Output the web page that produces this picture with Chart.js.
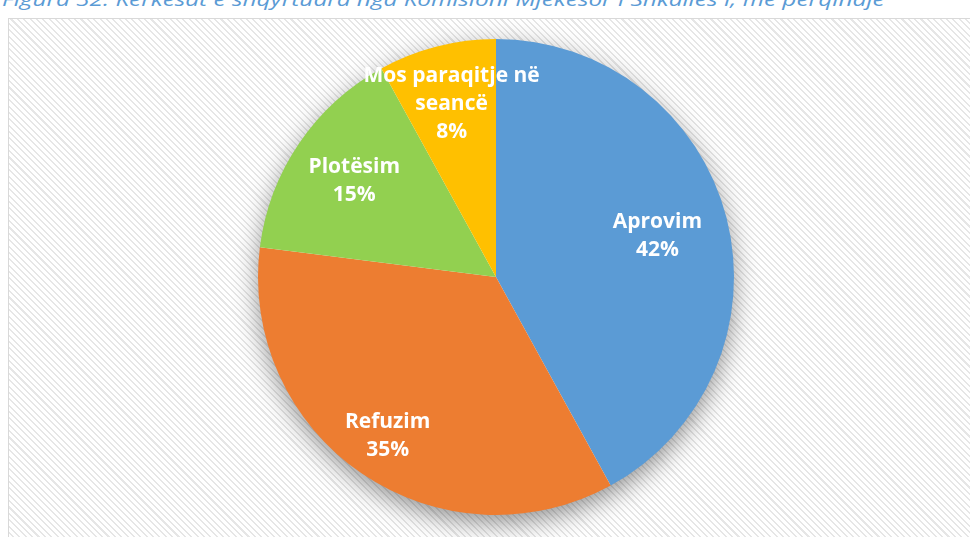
<!DOCTYPE html>
<html lang="sq">
<head>
    <meta charset="UTF-8">
    <title>Figura 32</title>
    <script src="https://cdn.jsdelivr.net/npm/chart.js"></script>
    <style>
        body {
            margin: 0;
            width: 970px;
            height: 537px;
            overflow: hidden;
            background: #fff;
            position: relative;
        }
        .caption {
            position: absolute;
            left: 2px;
            top: -11px;
            font-family: "Open Sans", sans-serif;
            font-style: italic;
            font-size: 19px;
            line-height: 20px;
            color: #5b9bd5;
            white-space: nowrap;
            transform-origin: 0 0;
        }
        .frame {
            position: absolute;
            left: 8px;
            top: 18px;
            width: 980px;
            height: 540px;
            border: 1px solid #d9d9d9;
            background: repeating-linear-gradient(45deg, #e6e6e6 0 1.5px, #ffffff 1.5px 4.5px);
        }
        #pie {
            position: absolute;
            left: 0;
            top: 0;
        }
    </style>
</head>
<body>
    <div class="caption" id="caption">Figura 32: Kërkesat e shqyrtuara nga Komisioni Mjekësor i Shkallës I, me përqindje</div>
    <div class="frame"></div>
    <canvas id="pie" width="970" height="537"></canvas>

    <script>
        // data
        const categories = ['Aprovim', 'Refuzim', 'Plotësim', 'Mos paraqitje në seancë'];
        const shares = [42, 35, 15, 8];
        const sliceColors = ['#5b9bd5', '#ed7d31', '#92d050', '#ffc000'];

        // stretch the caption to the width it has in the original
        const cap = document.getElementById('caption');
        cap.style.transform = 'scaleX(' + (883 / cap.offsetWidth) + ')';

        // soft shadow under the whole pie
        const pieShadow = {
            id: 'pieShadow',
            beforeDatasetsDraw(chart) {
                const arc = chart.getDatasetMeta(0).data[0];
                if (!arc) return;
                const ctx = chart.ctx;
                ctx.save();
                ctx.shadowColor = 'rgba(0,0,0,0.45)';
                ctx.shadowBlur = 26;
                ctx.shadowOffsetY = 8;
                ctx.fillStyle = '#ffffff';
                ctx.beginPath();
                ctx.arc(arc.x, arc.y, arc.outerRadius - 1, 0, Math.PI * 2);
                ctx.fill();
                ctx.restore();
            }
        };

        // white labels inside the slices, Excel style
        const labelDist = [0.70, 0.81, 0.72, 0.75];
        const sliceLabels = {
            id: 'sliceLabels',
            afterDatasetsDraw(chart) {
                const ctx = chart.ctx;
                const meta = chart.getDatasetMeta(0);
                ctx.save();
                ctx.font = 'bold 21px "Open Sans"';
                ctx.fillStyle = '#ffffff';
                ctx.textAlign = 'center';
                ctx.textBaseline = 'middle';
                meta.data.forEach((arc, i) => {
                    const mid = (arc.startAngle + arc.endAngle) / 2;
                    const r = arc.outerRadius * labelDist[i];
                    const cx = arc.x + Math.cos(mid) * r;
                    const cy = arc.y + Math.sin(mid) * r;

                    // wrap the category name at about 190px
                    const words = categories[i].split(' ');
                    const lines = [];
                    let cur = '';
                    words.forEach(w => {
                        const test = cur ? cur + ' ' + w : w;
                        if (cur && ctx.measureText(test).width > 190) {
                            lines.push(cur);
                            cur = w;
                        } else {
                            cur = test;
                        }
                    });
                    lines.push(cur);
                    lines.push(shares[i] + '%');

                    const lh = 28;
                    const y0 = cy - (lines.length - 1) * lh / 2;
                    lines.forEach((t, k) => ctx.fillText(t, cx, y0 + k * lh));
                });
                ctx.restore();
            }
        };

        new Chart(document.getElementById('pie'), {
            type: 'pie',
            data: {
                labels: categories,
                datasets: [{
                    data: shares,
                    backgroundColor: sliceColors,
                    borderWidth: 0
                }]
            },
            options: {
                responsive: false,
                devicePixelRatio: 1,
                animation: false,
                layout: {
                    padding: { left: 258, right: 236, top: 39, bottom: 22 }
                },
                plugins: {
                    legend: { display: false },
                    tooltip: { enabled: false }
                }
            },
            plugins: [pieShadow, sliceLabels]
        });
    </script>
</body>
</html>
